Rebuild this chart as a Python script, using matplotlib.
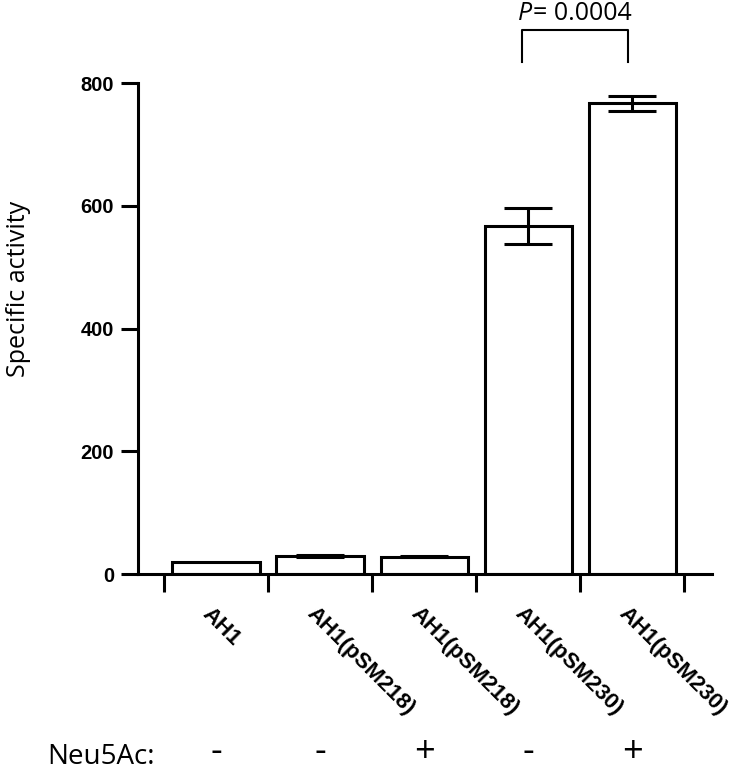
import numpy as np
import matplotlib.pyplot as plt
from matplotlib import transforms

# data
strains = ['AH1', 'AH1(pSM218)', 'AH1(pSM218)', 'AH1(pSM230)', 'AH1(pSM230)']
activity = [20, 29, 28, 567, 767]
activity_err = [0, 2, 1, 30, 12]
neu5ac = ['-', '-', '+', '-', '+']
p_text = '= 0.0004'

LW = 2.2
x = np.arange(len(strains))

fig = plt.figure(figsize=(7.36, 7.73), dpi=100)
ax = fig.add_axes([0.1871, 0.2574, 0.7803, 0.6352])

ax.bar(x, activity, width=0.84, color='white', edgecolor='black', linewidth=LW, zorder=2)

err = np.array(activity_err, dtype=float)
m = err > 0
ax.errorbar(x[m], np.array(activity)[m], yerr=err[m], fmt='none', ecolor='black',
            elinewidth=LW, capsize=17, capthick=LW, zorder=3)

ax.set_xlim(-0.753, 4.765)
ax.set_ylim(0, 800)
ax.set_yticks([0, 200, 400, 600, 800])
ax.set_xticks(np.arange(-0.5, len(strains)))
ax.set_xticklabels([])
for s in ['top', 'right']:
    ax.spines[s].set_visible(False)
for s in ['left', 'bottom']:
    ax.spines[s].set_linewidth(LW)
ax.tick_params(axis='y', length=12, width=LW, pad=5, labelsize=14.5)
ax.tick_params(axis='x', length=13, width=LW)
for lab in ax.get_yticklabels():
    lab.set_fontweight('bold')
    lab.set_family('Liberation Sans')

ax.set_ylabel('Specific activity', family='Open Sans', fontsize=18)
ax.yaxis.set_label_coords(-0.185, 0.58)

# rotated strain labels under the bars
trans = transforms.blended_transform_factory(ax.transData, ax.transAxes)
for i, s in enumerate(strains):
    ax.text(i - 0.03, -0.06, s, transform=trans, rotation=-45, rotation_mode='anchor',
            ha='left', va='top', fontsize=16, fontweight='bold', family='Liberation Sans')

# Neu5Ac row
fig.text(0.064, 0.003, 'Neu5Ac:', family='Open Sans', fontsize=20, ha='left', va='bottom')
sign_trans = transforms.blended_transform_factory(ax.transData, fig.transFigure)
for i, s in enumerate(neu5ac):
    ax.text(i, 1 - 753 / 773, s, transform=sign_trans,
            ha='center', va='center', fontsize=26, family='Open Sans')

# significance bracket
bx0, bx1 = 2.94, 3.96
ax.plot([bx0, bx0, bx1, bx1], [834, 886, 886, 834], color='black', lw=1.5, clip_on=False)
tp = ax.text(2.90, 893, 'P', style='italic', family='Open Sans', fontsize=18,
             ha='left', va='bottom')
ax.annotate(p_text, xy=(1, 0), xycoords=tp, xytext=(1, 0), textcoords='offset points',
            family='Open Sans', fontsize=18, ha='left', va='bottom')

fig.savefig('out.png', dpi=100)
